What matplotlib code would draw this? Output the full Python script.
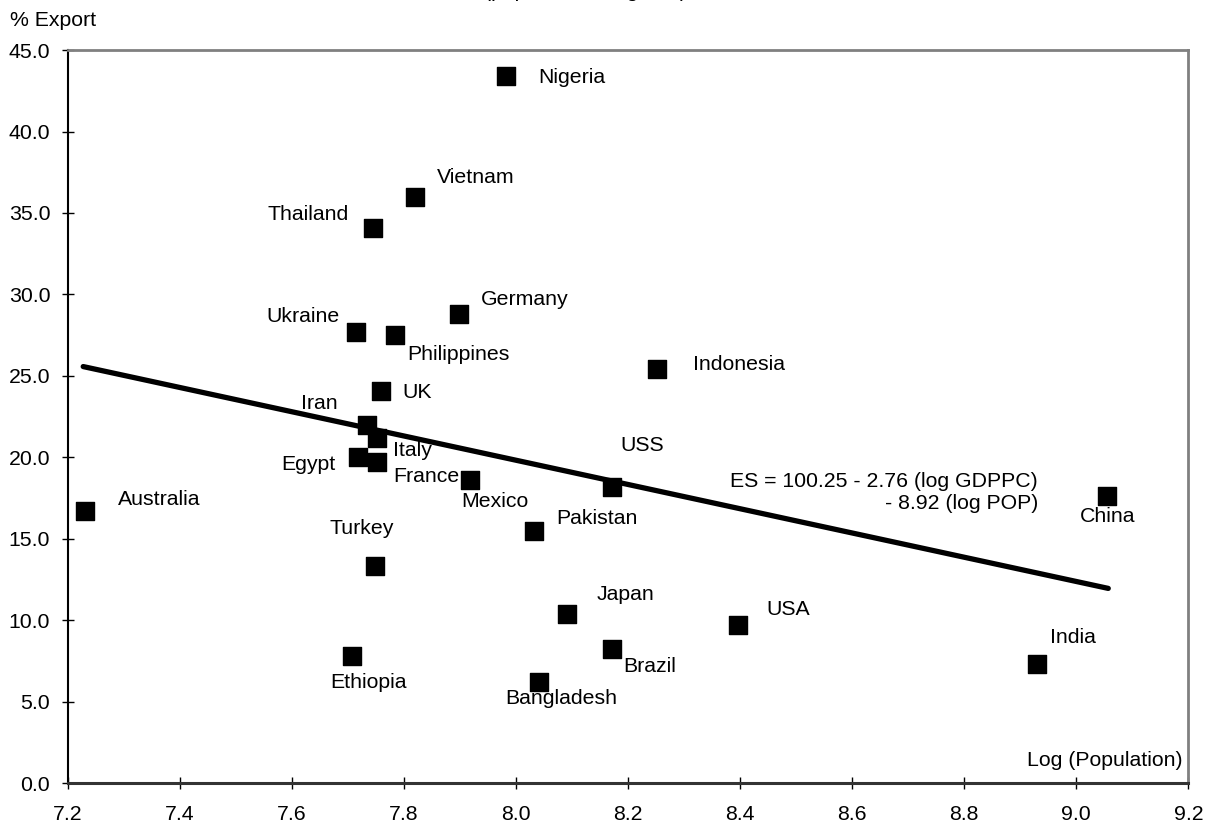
import matplotlib
matplotlib.use("Agg")
import matplotlib.pyplot as plt

plt.rcParams['font.family'] = ['Liberation Sans', 'DejaVu Sans']

# country data: log(population), % export
countries = ["Nigeria", "Vietnam", "Thailand", "Germany", "Ukraine", "Philippines",
             "Indonesia", "UK", "Iran", "Italy", "Egypt", "France", "Mexico", "USS",
             "Pakistan", "Australia", "Turkey", "Ethiopia", "Japan", "Bangladesh",
             "Brazil", "USA", "India", "China"]
log_pop = [7.982, 7.820, 7.745, 7.899, 7.715, 7.785,
           8.252, 7.759, 7.734, 7.753, 7.719, 7.753, 7.919, 8.172,
           8.033, 7.232, 7.748, 7.707, 8.092, 8.041,
           8.172, 8.397, 8.930, 9.055]
pct_export = [43.4, 36.0, 34.1, 28.8, 27.7, 27.5,
              25.4, 24.1, 22.0, 21.2, 20.0, 19.7, 18.6, 18.2,
              15.5, 16.7, 13.3, 7.8, 10.4, 6.2,
              8.2, 9.7, 7.3, 17.6]

# fitted line end points
line_x = [7.228, 9.057]
line_y = [25.57, 11.95]

x_ticks = [7.2, 7.4, 7.6, 7.8, 8.0, 8.2, 8.4, 8.6, 8.8, 9.0, 9.2]
y_ticks = [0, 5, 10, 15, 20, 25, 30, 35, 40, 45]

# label placement: (dx px, dy px, ha)  -- dy positive = up
label_pos = {
    "Nigeria": (32, -1, "left"), "Vietnam": (22, 19, "left"),
    "Thailand": (-24, 13, "right"), "Germany": (22, 14, "left"),
    "Ukraine": (-17, 15, "right"), "Philippines": (12, -19, "left"),
    "Indonesia": (36, 5, "left"), "UK": (22, -2, "left"),
    "Iran": (-29, 21, "right"), "Italy": (16, -13, "left"),
    "Egypt": (-23, -7, "right"), "France": (16, -14, "left"),
    "Mexico": (-9, -21, "left"), "USS": (8, 41, "left"),
    "Pakistan": (22, 12, "left"), "Australia": (32, 12, "left"),
    "Turkey": (-13, 38, "center"), "Ethiopia": (17, -27, "center"),
    "Japan": (29, 19, "left"), "Bangladesh": (22, -16, "center"),
    "Brazil": (11, -17, "left"), "USA": (28, 16, "left"),
    "India": (13, 27, "left"), "China": (0, -20, "center"),
}

fs = 15.3
fig = plt.figure(figsize=(12.21, 8.30), dpi=100)
ax = fig.add_axes([0.0553, 0.0566, 0.918, 0.883])

ax.plot(line_x, line_y, color='black', linewidth=3.8, solid_capstyle='round', zorder=2)
ax.scatter(log_pop, pct_export, marker='s', s=150, color='black', zorder=3)

for name, x, y in zip(countries, log_pop, pct_export):
    dx, dy, ha = label_pos[name]
    ax.annotate(name, (x, y), xytext=(dx, dy), textcoords='offset pixels',
                ha=ha, va='center', fontsize=fs)

ax.text(8.932, 17.83, "ES = 100.25 - 2.76 (log GDPPC)\n- 8.92 (log POP)",
        ha='right', va='center', multialignment='right', fontsize=fs, linespacing=1.2)

ax.set_xlim(7.2, 9.2)
ax.set_ylim(0, 45)
ax.set_xticks(x_ticks)
ax.set_xticklabels([f"{v:.1f}" for v in x_ticks])
ax.set_yticks(y_ticks)
ax.set_yticklabels([f"{v:.1f}" for v in y_ticks])
ax.tick_params(direction='inout', length=9, width=1, labelsize=fs)
ax.tick_params(axis='x', pad=11)
ax.tick_params(axis='y', pad=8)

for side in ['top', 'right']:
    ax.spines[side].set_color('#808080')
    ax.spines[side].set_linewidth(2)
ax.spines['left'].set_linewidth(1.5)
ax.spines['bottom'].set_linewidth(2.2)
ax.spines['bottom'].set_color('#333333')

ax.text(0.995, 0.031, "Log (Population)", transform=ax.transAxes,
        ha='right', va='center', fontsize=fs)
fig.text(0.008, 1 - 20 / 830, "% Export", ha='left', va='center', fontsize=fs)
# title sits above the top edge, only its descenders show (as in the source image)
fig.text(585 / 1221, 1 + 3 / 830, "(population weighted)", ha='center',
         va='baseline', fontsize=fs)

fig.savefig("out.png", dpi=100)
